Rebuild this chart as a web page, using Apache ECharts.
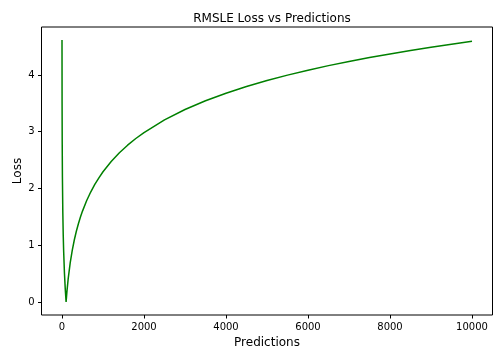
<!DOCTYPE html>
<html>
<head>
<meta charset="utf-8">
<title>RMSLE Loss vs Predictions</title>
<script src="https://cdn.jsdelivr.net/npm/echarts@6/dist/echarts.min.js"></script>
<style>
  html, body { margin: 0; padding: 0; background: #fff; }
  #chart { width: 504px; height: 360px; }
</style>
</head>
<body>
<div id="chart"></div>
<script>
// values
const predictions = [0, 2, 5, 10, 20, 30, 40, 60, 80, 100, 120, 150, 200, 250, 300, 350, 400, 450, 500,
  600, 700, 800, 900, 1000, 1200, 1400, 1600, 1800, 2000, 2500, 3000, 3500, 4000, 4500, 5000,
  5500, 6000, 6500, 7000, 7500, 8000, 8500, 9000, 9500, 10000]
const loss = [4.615, 3.517, 2.823, 2.217, 1.571, 1.181, 0.902, 0.504, 0.221, 0.000, 0.181, 0.402, 0.688, 0.910, 1.092, 1.246, 1.379, 1.496, 1.601,
  1.783, 1.937, 2.071, 2.188, 2.294, 2.476, 2.630, 2.763, 2.881, 2.986, 3.209, 3.392, 3.546, 3.679, 3.797, 3.902,
  3.998, 4.085, 4.165, 4.239, 4.308, 4.372, 4.433, 4.490, 4.544, 4.595]
const xTicks = [0, 2000, 4000, 6000, 8000, 10000]
const yTicks = [0, 1, 2, 3, 4]

const font = 'DejaVu Sans'
const points = predictions.map((p, i) => [p, loss[i]])

const options = {
  animation: false,
  textStyle: { fontFamily: font },
  title: {
    text: 'RMSLE Loss vs Predictions',
    left: 267,
    top: 8,
    textAlign: 'center',
    textStyle: { fontFamily: font, fontSize: 12, fontWeight: 'normal', color: '#000' },
  },
  grid: {
    left: 41.5,
    right: 11.5,
    top: 27,
    bottom: 45,
    show: true,
    borderColor: '#000',
    borderWidth: 1,
    containLabel: false,
  },
  xAxis: {
    type: 'value',
    min: -500,
    max: 10500,
    name: 'Predictions',
    nameLocation: 'middle',
    nameGap: 22,
    nameMoveOverlap: false,
    nameTextStyle: { fontFamily: font, fontSize: 12, color: '#000', verticalAlign: 'top' },
    splitLine: { show: false },
    axisLine: { show: false, onZero: false },
    axisTick: { show: true, length: 3.5, customValues: xTicks, lineStyle: { color: '#000' } },
    axisLabel: {
      customValues: xTicks, margin: 7, fontSize: 10, color: '#000', fontFamily: font,
      formatter: (v) => String(v),
    },
  },
  yAxis: {
    type: 'value',
    min: -0.23,
    max: 4.846,
    name: 'Loss',
    nameLocation: 'middle',
    nameGap: 18,
    nameMoveOverlap: false,
    nameTextStyle: { fontFamily: font, fontSize: 12, color: '#000' },
    splitLine: { show: false },
    axisLine: { show: false, onZero: false },
    axisTick: { show: true, length: 3.5, customValues: yTicks, lineStyle: { color: '#000' } },
    axisLabel: {
      customValues: yTicks, margin: 7, fontSize: 10, color: '#000', fontFamily: font,
      formatter: (v) => String(v),
    },
  },
  series: [
    {
      name: 'Loss',
      type: 'line',
      data: points,
      showSymbol: false,
      smooth: false,
      lineStyle: { color: '#008000', width: 1.5 },
      itemStyle: { color: '#008000' },
    },
  ],
}

const dom = document.getElementById('chart')
const chart = echarts.init(dom)
chart.setOption(options)
</script>
</body>
</html>
